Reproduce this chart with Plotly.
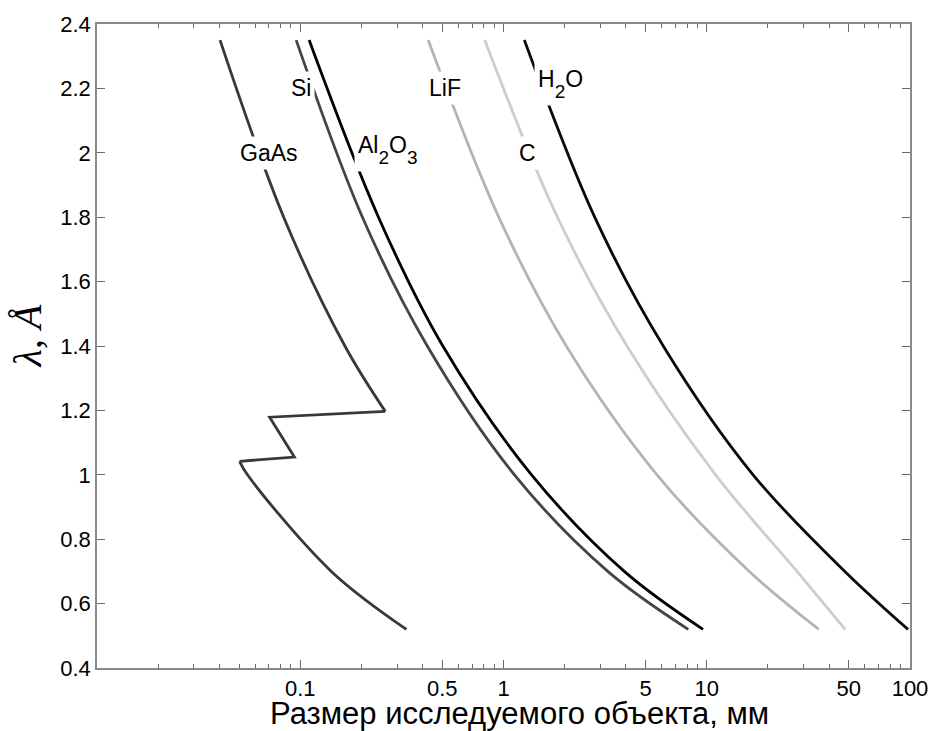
import math
import plotly.graph_objects as go

# Wavelength levels (Å) at which the object sizes were read
lam_levels = [2.35, 1.80, 1.40, 1.00, 0.70, 0.52]

# Object size (mm) for each material at those wavelengths
si_size = [0.0955, 0.2023, 0.4217, 1.132, 3.26, 8.11]
al2o3_size = [0.1106, 0.2426, 0.503, 1.374, 3.93, 9.59]
lif_size = [0.4258, 0.948, 2.037, 5.69, 16.2, 35.6]
c_size = [0.808, 1.842, 4.05, 11.06, 27.8, 48.0]
h2o_size = [1.266, 2.81, 6.11, 16.9, 47.8, 97.8]

# GaAs has absorption edges, drawn in three pieces
gaas_upper_lam = [2.35, 1.80, 1.40, 1.197]
gaas_upper_size = [0.0403, 0.0829, 0.1658, 0.262]
gaas_edge_lam = [1.197, 1.179, 1.055, 1.042]
gaas_edge_size = [0.262, 0.0707, 0.0936, 0.0503]
gaas_lower_lam = [1.042, 1.00, 0.70, 0.52]
gaas_lower_size = [0.0503, 0.055, 0.1422, 0.333]

x_tick_vals = [0.1, 0.5, 1, 5, 10, 50, 100]
x_tick_text = ["0.1", "0.5", "1", "5", "10", "50", "100"]
x_minor_vals = [m * 10 ** k for k in range(-2, 2) for m in range(2, 10)]

# Tall, deep subscript in the MATLAB/TeX manner
SUB = '<span style="font-size:19px;baseline-shift:-11px">{}</span>'

# Curve labels: text, size (mm), wavelength (Å)
label_text = ["GaAs", "Si", "Al" + SUB.format("2") + "O" + SUB.format("3"),
              "LiF", "C", "H" + SUB.format("2") + "O"]
label_size = [0.0698, 0.1014, 0.27, 0.518, 1.319, 1.91]
label_lam = [2.0, 2.2, 2.01, 2.2, 2.0, 2.215]

FONT = "Liberation Sans, Arial, sans-serif"
LW = 2.8

fig = go.Figure()


def add_curve(x, y, color, shape="spline"):
    fig.add_trace(go.Scatter(
        x=x, y=y, mode="lines",
        line=dict(color=color, width=LW, shape=shape),
        showlegend=False, hoverinfo="skip",
    ))


add_curve(gaas_upper_size, gaas_upper_lam, "#383838")
add_curve(gaas_edge_size, gaas_edge_lam, "#383838", shape="linear")
add_curve(gaas_lower_size, gaas_lower_lam, "#383838")
add_curve(si_size, lam_levels, "#454545")
add_curve(al2o3_size, lam_levels, "#000000")
add_curve(lif_size, lam_levels, "#b4b4b4")
add_curve(c_size, lam_levels, "#cdcdcd")
add_curve(h2o_size, lam_levels, "#0a0a0a")

# White box behind each label breaks the line under the text
for text, xv, yv in zip(label_text, label_size, label_lam):
    fig.add_annotation(
        x=math.log10(xv), y=yv, xref="x", yref="y", text=text, showarrow=False,
        font=dict(family=FONT, size=23, color="#000"),
        bgcolor="#ffffff", borderpad=3,
        xanchor="center", yanchor="middle",
    )

fig.add_annotation(
    x=0.52, y=-0.07, xref="paper", yref="paper",
    text="Размер исследуемого объекта, мм", showarrow=False,
    font=dict(family=FONT, size=31, color="#000"),
    xanchor="center", yanchor="middle",
)
fig.add_annotation(
    x=-0.086, y=0.515, xref="paper", yref="paper",
    text="<i>λ</i>, <i>Å</i>", showarrow=False, textangle=-90,
    font=dict(family="Liberation Serif, Times New Roman, serif", size=40, color="#000"),
    xanchor="center", yanchor="middle",
)

axis_common = dict(
    showgrid=False, zeroline=False,
    showline=True, linecolor="#8a8a8a", linewidth=1.5, mirror="ticks",
    ticks="inside", ticklen=8, tickwidth=1, tickcolor="#6a6a6a",
    tickfont=dict(family=FONT, size=22, color="#000"),
)

fig.update_xaxes(
    type="log", range=[-2, 2],
    tickmode="array", tickvals=x_tick_vals, ticktext=x_tick_text,
    minor=dict(tickmode="array", tickvals=x_minor_vals, ticks="inside",
               ticklen=4, tickwidth=1, tickcolor="#6a6a6a"),
    **axis_common,
)
fig.update_yaxes(
    range=[0.4, 2.4], tick0=0.4, dtick=0.2,
    **axis_common,
)

fig.update_layout(
    width=940, height=731,
    margin=dict(l=97, r=23, t=23, b=63),
    paper_bgcolor="#ffffff", plot_bgcolor="#ffffff",
)

fig.write_html("out.html")
